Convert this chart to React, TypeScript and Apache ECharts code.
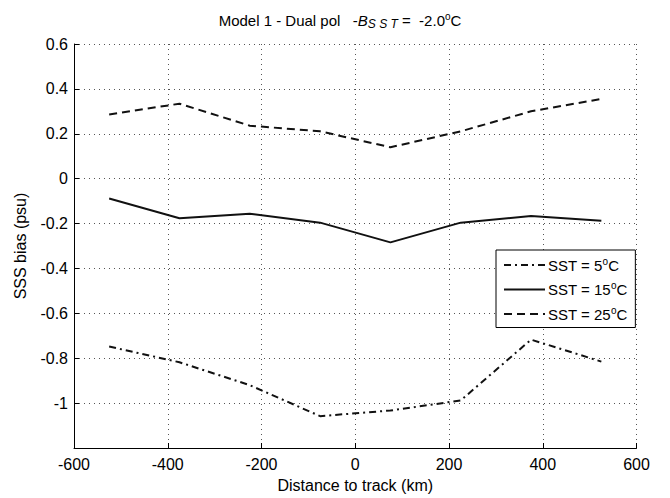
import React, { useEffect, useRef } from "react";
import * as echarts from "echarts";

const distances = [-525, -375, -225, -75, 75, 225, 375, 525];
const sst5 = [-0.748, -0.818, -0.92, -1.058, -1.033, -0.988, -0.717, -0.815];
const sst15 = [-0.088, -0.176, -0.156, -0.196, -0.284, -0.196, -0.166, -0.188];
const sst25 = [0.286, 0.334, 0.236, 0.211, 0.14, 0.211, 0.30, 0.355];
const seriesNames = ["SST = 5°C", "SST = 15°C", "SST = 25°C"];
const legendLabels = ["5", "15", "25"];

const FONT = "Liberation Sans, Arial, sans-serif";

export default function App() {
  const ref = useRef<HTMLDivElement>(null);
  useEffect(() => {
    if (!ref.current) return;
    const chart = echarts.init(ref.current, null, { renderer: "svg" });
    const toPairs = (arr: number[]) => distances.map((d, i) => [d, arr[i]]);
    const dotted = { show: true, lineStyle: { color: "#555", type: [1, 4] as any, width: 1 } };
    chart.setOption({
      animation: false,
      backgroundColor: "#fff",
      textStyle: { fontFamily: FONT, color: "#000" },
      title: {
        text: "Model 1 - Dual pol   -{i|B}{sub|S S T} =  -2.0{sup|o}C",
        left: 335,
        textAlign: "center",
        top: 5,
        textStyle: {
          fontFamily: FONT,
          fontSize: 15,
          fontWeight: "normal",
          color: "#000",
          rich: {
            i: { fontFamily: FONT, fontSize: 15, fontStyle: "italic", color: "#000" },
            sub: { fontFamily: FONT, fontSize: 12, fontStyle: "italic", color: "#000", padding: [8, 0, 0, 0] },
            sup: { fontFamily: FONT, fontSize: 10, color: "#000", padding: [0, 0, 8, 0] },
          },
        },
      },
      grid: { left: 74, right: 33.5, top: 44, bottom: 48, containLabel: false },
      xAxis: {
        type: "value",
        min: -600,
        max: 600,
        interval: 200,
        name: "Distance to track (km)",
        nameLocation: "middle",
        nameGap: 29,
        nameTextStyle: { fontFamily: FONT, fontSize: 16, color: "#000" },
        axisLine: { show: true, onZero: false, lineStyle: { color: "#000", width: 1 } },
        axisTick: { show: true, inside: true, length: 5, lineStyle: { color: "#000" } },
        axisLabel: { fontFamily: FONT, fontSize: 16, color: "#000", margin: 8 },
        splitLine: dotted,
      },
      yAxis: {
        type: "value",
        min: -1.2,
        max: 0.6,
        interval: 0.2,
        name: "SSS bias (psu)",
        nameLocation: "middle",
        nameGap: 46,
        nameTextStyle: { fontFamily: FONT, fontSize: 16, color: "#000" },
        axisLine: { show: true, onZero: false, lineStyle: { color: "#000", width: 1 } },
        axisTick: { show: true, inside: true, length: 5, lineStyle: { color: "#000" } },
        axisLabel: {
          fontFamily: FONT,
          fontSize: 16,
          color: "#000",
          margin: 6,
          formatter: (v: number) => (Math.abs(v + 1.2) < 1e-9 ? "" : String(Number(v.toFixed(1)))),
        },
        splitLine: dotted,
      },
      legend: {
        orient: "vertical",
        left: 496,
        top: 250,
        width: 134,
        padding: [6, 8, 6, 7],
        itemGap: 8,
        itemWidth: 41,
        itemHeight: 14,
        backgroundColor: "#fff",
        borderColor: "#000",
        borderWidth: 1,
        borderRadius: 0,
        itemStyle: { opacity: 0 },
        data: seriesNames,
        formatter: (name: string) => {
          const idx = seriesNames.indexOf(name);
          return `SST = ${legendLabels[idx]}{sup|o}C`;
        },
        textStyle: {
          fontFamily: FONT,
          fontSize: 15,
          color: "#000",
          padding: [0, 0, 0, -2],
          rich: {
            sup: { fontFamily: FONT, fontSize: 10, color: "#000", padding: [0, 0, 8, 0] },
          },
        },
      },
      series: [
        {
          name: seriesNames[0],
          type: "line",
          symbol: "none",
          data: toPairs(sst5),
          lineStyle: { color: "#111", width: 2, type: [7, 4, 2, 4] },
          itemStyle: { color: "#111" },
        },
        {
          name: seriesNames[1],
          type: "line",
          symbol: "none",
          data: toPairs(sst15),
          lineStyle: { color: "#111", width: 2, type: "solid" },
          itemStyle: { color: "#111" },
        },
        {
          name: seriesNames[2],
          type: "line",
          symbol: "none",
          data: toPairs(sst25),
          lineStyle: { color: "#111", width: 2, type: [8, 5] },
          itemStyle: { color: "#111" },
        },
      ],
    });
    return () => chart.dispose();
  }, []);
  return <div ref={ref} style={{ width: 670, height: 498, position: "absolute", left: 0, top: 0 }} />;
}
